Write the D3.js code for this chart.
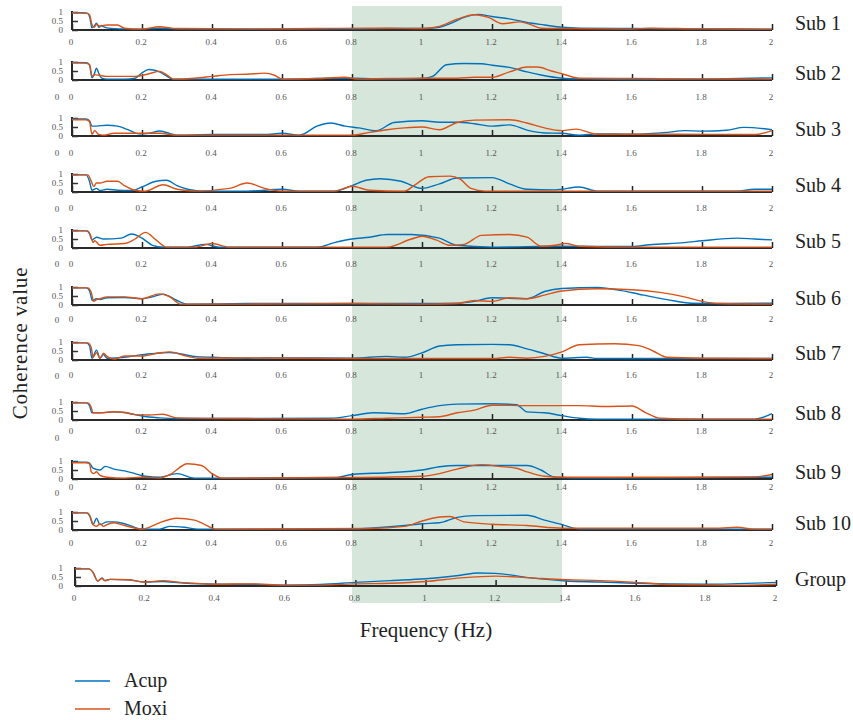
<!DOCTYPE html>
<html>
<head>
<meta charset="utf-8">
<script src="https://cdn.jsdelivr.net/npm/d3@7"></script>
<style>
  body { margin: 0; background: #fff; }
</style>
</head>
<body>
<div id="chart"></div>
<script>
//////////////////////////////////////////////////////////////////////////
// data: coherence per subject, knots read as [frequency (Hz), coherence]

var panelNames = ["Sub 1", "Sub 2", "Sub 3", "Sub 4", "Sub 5", "Sub 6",
                  "Sub 7", "Sub 8", "Sub 9", "Sub 10", "Group"];
var seriesNames = ["Acup", "Moxi"];
var xTicks = [0, 0.2, 0.4, 0.6, 0.8, 1, 1.2, 1.4, 1.6, 1.8, 2];
var yTicks = [0, 0.5, 1];
var bandRange = [0.8, 1.4];

var acupCurves = [
  [[0,0.96],[0.03,0.96],[0.045,0.92],[0.052,0.6],[0.057,0.12],[0.063,0.2],[0.07,0.38],[0.077,0.15],[0.085,0.25],[0.09,0.18],[0.1,0.12],[0.15,0.06],[0.2,0.05],[0.25,0.1],[0.3,0.05],[0.5,0.05],[0.7,0.05],[0.8,0.05],[0.9,0.08],[1.0,0.08],[1.05,0.15],[1.08,0.35],[1.12,0.7],[1.16,0.87],[1.2,0.75],[1.25,0.62],[1.3,0.42],[1.35,0.28],[1.4,0.15],[1.45,0.1],[1.6,0.08],[1.8,0.06],[2,0.05]],
  [[0,0.97],[0.04,0.96],[0.05,0.85],[0.057,0.12],[0.063,0.3],[0.07,0.65],[0.077,0.35],[0.085,0.1],[0.1,0.05],[0.15,0.05],[0.18,0.1],[0.2,0.4],[0.22,0.58],[0.25,0.45],[0.29,0.05],[0.4,0.05],[0.6,0.05],[0.75,0.1],[0.8,0.1],[0.9,0.05],[1.0,0.08],[1.03,0.2],[1.07,0.85],[1.12,0.92],[1.17,0.9],[1.2,0.82],[1.25,0.7],[1.3,0.45],[1.34,0.28],[1.4,0.1],[1.45,0.06],[1.6,0.03],[1.8,0.05],[2,0.12]],
  [[0,0.95],[0.04,0.95],[0.05,0.85],[0.057,0.55],[0.07,0.55],[0.1,0.6],[0.13,0.55],[0.16,0.35],[0.19,0.12],[0.22,0.15],[0.25,0.28],[0.3,0.05],[0.4,0.08],[0.55,0.08],[0.6,0.15],[0.65,0.05],[0.7,0.55],[0.74,0.72],[0.78,0.55],[0.82,0.45],[0.87,0.3],[0.92,0.75],[1.0,0.85],[1.05,0.76],[1.1,0.76],[1.15,0.68],[1.2,0.55],[1.25,0.62],[1.3,0.33],[1.35,0.17],[1.4,0.15],[1.45,0.05],[1.5,0.12],[1.6,0.1],[1.7,0.2],[1.75,0.3],[1.8,0.27],[1.87,0.32],[1.92,0.48],[2,0.35]],
  [[0,0.95],[0.04,0.95],[0.05,0.6],[0.057,0.1],[0.07,0.2],[0.08,0.08],[0.1,0.15],[0.13,0.1],[0.17,0.08],[0.2,0.28],[0.24,0.6],[0.27,0.65],[0.3,0.35],[0.33,0.15],[0.37,0.05],[0.5,0.05],[0.6,0.15],[0.65,0.05],[0.75,0.05],[0.8,0.35],[0.84,0.65],[0.88,0.74],[0.94,0.6],[1.0,0.2],[1.05,0.45],[1.1,0.78],[1.2,0.8],[1.25,0.45],[1.3,0.15],[1.38,0.12],[1.45,0.28],[1.5,0.05],[1.9,0.05],[1.95,0.15],[2,0.15]],
  [[0,0.95],[0.04,0.95],[0.05,0.8],[0.057,0.45],[0.07,0.6],[0.09,0.5],[0.14,0.55],[0.17,0.78],[0.2,0.55],[0.23,0.15],[0.26,0.05],[0.33,0.05],[0.38,0.2],[0.42,0.05],[0.7,0.05],[0.75,0.3],[0.8,0.5],[0.85,0.6],[0.9,0.75],[0.97,0.75],[1.05,0.55],[1.1,0.15],[1.2,0.05],[1.4,0.1],[1.6,0.08],[1.65,0.18],[1.75,0.3],[1.8,0.4],[1.9,0.55],[1.95,0.5],[2,0.45]],
  [[0,0.95],[0.04,0.95],[0.05,0.8],[0.058,0.25],[0.07,0.35],[0.08,0.3],[0.1,0.4],[0.15,0.42],[0.2,0.35],[0.23,0.45],[0.26,0.6],[0.3,0.25],[0.33,0.05],[0.5,0.08],[0.8,0.08],[1.0,0.08],[1.1,0.1],[1.15,0.2],[1.2,0.4],[1.3,0.35],[1.35,0.75],[1.4,0.92],[1.5,0.97],[1.57,0.8],[1.62,0.6],[1.7,0.3],[1.77,0.1],[1.85,0.08],[2,0.1]],
  [[0,0.95],[0.04,0.95],[0.05,0.8],[0.057,0.1],[0.07,0.55],[0.08,0.1],[0.09,0.3],[0.1,0.1],[0.15,0.15],[0.2,0.3],[0.25,0.38],[0.28,0.42],[0.35,0.2],[0.4,0.15],[0.5,0.1],[0.6,0.12],[0.8,0.1],[0.9,0.2],[0.95,0.15],[1.0,0.4],[1.05,0.78],[1.1,0.85],[1.2,0.87],[1.25,0.85],[1.3,0.62],[1.35,0.35],[1.4,0.1],[1.47,0.15],[1.5,0.08],[2,0.08]],
  [[0,0.95],[0.04,0.95],[0.05,0.8],[0.057,0.4],[0.08,0.4],[0.12,0.45],[0.15,0.42],[0.18,0.3],[0.2,0.22],[0.25,0.12],[0.3,0.08],[0.5,0.08],[0.74,0.1],[0.8,0.24],[0.86,0.4],[0.95,0.35],[1.0,0.6],[1.05,0.8],[1.1,0.88],[1.2,0.9],[1.27,0.85],[1.3,0.45],[1.35,0.4],[1.4,0.24],[1.45,0.1],[1.5,0.05],[1.95,0.05],[2,0.35]],
  [[0,0.95],[0.04,0.93],[0.05,0.88],[0.06,0.6],[0.08,0.5],[0.095,0.7],[0.12,0.55],[0.15,0.45],[0.18,0.3],[0.21,0.15],[0.25,0.1],[0.3,0.3],[0.35,0.05],[0.5,0.05],[0.75,0.08],[0.8,0.25],[0.9,0.35],[1.0,0.5],[1.05,0.68],[1.1,0.75],[1.2,0.75],[1.3,0.75],[1.34,0.5],[1.38,0.1],[1.5,0.05],[1.8,0.08],[2,0.1]],
  [[0,0.95],[0.04,0.95],[0.05,0.8],[0.06,0.3],[0.07,0.65],[0.08,0.3],[0.1,0.45],[0.12,0.45],[0.15,0.35],[0.2,0.05],[0.25,0.05],[0.28,0.2],[0.32,0.15],[0.36,0.05],[0.8,0.05],[0.85,0.1],[0.95,0.25],[1.0,0.35],[1.05,0.4],[1.1,0.7],[1.15,0.8],[1.3,0.82],[1.35,0.55],[1.4,0.3],[1.45,0.05],[2,0.05]],
  [[0,0.95],[0.04,0.95],[0.05,0.8],[0.065,0.28],[0.077,0.45],[0.085,0.3],[0.1,0.37],[0.15,0.35],[0.2,0.22],[0.25,0.25],[0.3,0.18],[0.4,0.1],[0.5,0.1],[0.6,0.05],[0.7,0.08],[0.8,0.2],[0.9,0.3],[1.0,0.4],[1.1,0.6],[1.15,0.72],[1.2,0.7],[1.3,0.45],[1.4,0.28],[1.5,0.22],[1.6,0.15],[1.8,0.1],[2,0.2]]
];

var moxiCurves = [
  [[0,0.95],[0.04,0.94],[0.05,0.85],[0.057,0.3],[0.063,0.15],[0.07,0.3],[0.08,0.22],[0.1,0.28],[0.13,0.28],[0.15,0.1],[0.2,0.05],[0.25,0.18],[0.3,0.08],[0.5,0.06],[0.7,0.08],[0.85,0.1],[0.9,0.1],[1.0,0.08],[1.05,0.2],[1.1,0.6],[1.15,0.85],[1.19,0.7],[1.23,0.35],[1.28,0.45],[1.31,0.3],[1.34,0.1],[1.4,0.08],[1.6,0.05],[1.65,0.1],[1.8,0.06],[2,0.05]],
  [[0,0.95],[0.04,0.94],[0.05,0.85],[0.058,0.2],[0.065,0.3],[0.08,0.25],[0.1,0.2],[0.18,0.2],[0.22,0.35],[0.25,0.48],[0.27,0.3],[0.29,0.05],[0.35,0.1],[0.4,0.2],[0.45,0.3],[0.5,0.32],[0.55,0.38],[0.58,0.25],[0.6,0.05],[0.7,0.08],[0.78,0.15],[0.82,0.05],[0.9,0.08],[1.0,0.1],[1.1,0.1],[1.15,0.15],[1.2,0.15],[1.25,0.45],[1.3,0.72],[1.33,0.72],[1.37,0.5],[1.4,0.35],[1.45,0.1],[1.6,0.08],[1.8,0.06],[2,0.05]],
  [[0,0.9],[0.04,0.9],[0.05,0.8],[0.057,0.1],[0.065,0.3],[0.075,0.1],[0.09,0.05],[0.12,0.15],[0.2,0.15],[0.25,0.15],[0.3,0.05],[0.5,0.05],[0.8,0.05],[0.85,0.2],[0.9,0.35],[0.95,0.45],[1.0,0.5],[1.05,0.35],[1.1,0.75],[1.15,0.88],[1.25,0.9],[1.3,0.72],[1.35,0.45],[1.4,0.3],[1.44,0.38],[1.5,0.1],[1.7,0.1],[1.95,0.08],[2,0.3]],
  [[0,0.95],[0.045,0.95],[0.055,0.6],[0.062,0.3],[0.07,0.5],[0.08,0.5],[0.1,0.6],[0.13,0.6],[0.15,0.35],[0.18,0.1],[0.21,0.05],[0.26,0.4],[0.3,0.15],[0.35,0.05],[0.45,0.2],[0.5,0.5],[0.55,0.2],[0.6,0.05],[0.75,0.05],[0.8,0.32],[0.85,0.1],[0.95,0.05],[0.98,0.4],[1.02,0.85],[1.08,0.88],[1.11,0.7],[1.14,0.2],[1.18,0.05],[1.5,0.05],[2,0.05]],
  [[0,0.95],[0.045,0.95],[0.055,0.6],[0.06,0.3],[0.065,0.4],[0.08,0.15],[0.1,0.2],[0.15,0.25],[0.18,0.5],[0.21,0.87],[0.24,0.45],[0.27,0.05],[0.35,0.05],[0.4,0.25],[0.45,0.05],[0.9,0.05],[0.97,0.5],[1.0,0.65],[1.04,0.45],[1.08,0.15],[1.12,0.2],[1.17,0.7],[1.25,0.75],[1.3,0.6],[1.34,0.1],[1.38,0.15],[1.41,0.25],[1.45,0.1],[1.6,0.05],[2,0.05]],
  [[0,0.95],[0.045,0.95],[0.055,0.7],[0.062,0.2],[0.07,0.3],[0.08,0.35],[0.1,0.45],[0.15,0.45],[0.2,0.35],[0.25,0.62],[0.28,0.45],[0.31,0.05],[0.5,0.05],[0.8,0.08],[1.0,0.05],[1.1,0.08],[1.15,0.25],[1.2,0.2],[1.25,0.4],[1.3,0.35],[1.35,0.55],[1.4,0.78],[1.5,0.9],[1.6,0.85],[1.68,0.7],[1.75,0.45],[1.8,0.2],[1.85,0.08],[2,0.05]],
  [[0,0.95],[0.045,0.95],[0.055,0.7],[0.06,0.15],[0.07,0.4],[0.08,0.1],[0.09,0.38],[0.1,0.2],[0.12,0.05],[0.15,0.22],[0.2,0.22],[0.25,0.4],[0.28,0.45],[0.32,0.25],[0.36,0.1],[0.5,0.12],[0.8,0.08],[1.2,0.08],[1.25,0.15],[1.3,0.1],[1.35,0.2],[1.4,0.45],[1.45,0.85],[1.55,0.9],[1.62,0.8],[1.66,0.5],[1.7,0.15],[1.8,0.1],[2,0.08]],
  [[0,0.95],[0.045,0.95],[0.055,0.7],[0.06,0.4],[0.08,0.4],[0.12,0.46],[0.15,0.42],[0.18,0.3],[0.22,0.28],[0.26,0.32],[0.3,0.12],[0.5,0.08],[0.8,0.05],[0.9,0.1],[1.0,0.15],[1.05,0.18],[1.1,0.4],[1.15,0.55],[1.2,0.82],[1.3,0.8],[1.45,0.8],[1.52,0.75],[1.6,0.78],[1.64,0.4],[1.68,0.1],[1.8,0.05],[2,0.05]],
  [[0,0.9],[0.04,0.9],[0.05,0.85],[0.055,0.4],[0.062,0.3],[0.07,0.4],[0.08,0.2],[0.1,0.1],[0.15,0.05],[0.2,0.1],[0.25,0.05],[0.28,0.25],[0.33,0.85],[0.37,0.75],[0.4,0.3],[0.43,0.05],[0.8,0.08],[1.0,0.15],[1.05,0.3],[1.1,0.55],[1.17,0.8],[1.22,0.7],[1.27,0.6],[1.3,0.4],[1.35,0.15],[1.4,0.1],[1.8,0.1],[1.95,0.12],[2,0.25]],
  [[0,0.95],[0.045,0.95],[0.055,0.6],[0.06,0.3],[0.07,0.2],[0.08,0.35],[0.09,0.2],[0.1,0.3],[0.12,0.4],[0.15,0.25],[0.2,0.05],[0.22,0.15],[0.25,0.4],[0.3,0.65],[0.35,0.55],[0.38,0.3],[0.41,0.05],[0.85,0.08],[0.95,0.2],[1.0,0.5],[1.05,0.72],[1.08,0.75],[1.12,0.45],[1.2,0.32],[1.3,0.25],[1.4,0.1],[1.85,0.1],[1.9,0.15],[1.95,0.05],[2,0.05]],
  [[0,0.95],[0.04,0.95],[0.05,0.8],[0.065,0.28],[0.077,0.42],[0.085,0.3],[0.1,0.37],[0.15,0.35],[0.2,0.22],[0.25,0.3],[0.3,0.2],[0.4,0.1],[0.5,0.12],[0.6,0.05],[0.7,0.05],[0.8,0.12],[0.9,0.15],[1.0,0.25],[1.1,0.45],[1.2,0.55],[1.3,0.45],[1.4,0.35],[1.5,0.3],[1.6,0.2],[1.7,0.08],[1.9,0.05],[2,0.1]]
];

//////////////////////////////////////////////////////////////////////////
// layout constants

var Width = 853;
var Height = 720;
var PanelHeight = 18;                  // px for coherence 0..1
var baselines = [30, 80, 136, 192, 248, 305, 360, 420, 479, 530, 586];
var labelRows = [42, 97, 153, 208, 264, 319, 375, 431, 487, 543, 598];
var strayZeroRows = [null, 97, 153, 209, 264, 320, 376, 438, 493, null, null];
var colors = ["#0072BD", "#D95319"];
var shadeColor = "#d6e6da";
var FontFamily = "'Liberation Serif', 'Times New Roman', 'DejaVu Serif', serif";

function xRangeFor (i) {
    // the group panel sits a few pixels to the right
    return i === panelNames.length - 1 ? [75, 776] : [72, 772];
}

//////////////////////////////////////////////////////////////////////////

function initialize () {

    var svg = d3.select("#chart")
        .append("svg")
        .attr("width", Width)
        .attr("height", Height)
        .attr("font-family", FontFamily);

    // shaded band behind all panels
    var bandScale = d3.scaleLinear().domain([0, 2]).range(xRangeFor(0));
    svg.append("rect")
        .attr("x", bandScale(bandRange[0]))
        .attr("y", 6)
        .attr("width", bandScale(bandRange[1]) - bandScale(bandRange[0]))
        .attr("height", 597)
        .attr("fill", shadeColor);

    panelNames.forEach(function (name, i) {
        makePanel(svg, i);
    });

    makeLabels(svg);
    makeLegend(svg);

} // end initialize

function makePanel (svg, i) {

    var base = baselines[i];
    var xScale = d3.scaleLinear().domain([0, 2]).range(xRangeFor(i));
    var yScale = d3.scaleLinear().domain([0, 1]).range([base, base - PanelHeight]);
    var g = svg.append("g").attr("class", "panel");

    // x axis: ticks point up into the plot
    var xAxis = d3.axisTop(xScale).tickValues(xTicks).tickSize(6).tickFormat("");
    var xg = g.append("g")
        .attr("transform", "translate(0," + base + ")")
        .call(xAxis);
    xg.select(".domain").remove();
    xg.selectAll(".tick line").attr("stroke", "#222").attr("stroke-width", 1.5);
    g.append("line")
        .attr("x1", xScale(0)).attr("x2", xScale(2))
        .attr("y1", base).attr("y2", base)
        .attr("stroke", "#2a2a2a").attr("stroke-width", 2.2);

    // x tick labels sit on their own row
    g.selectAll("text.xlab")
        .data(xTicks)
        .enter()
        .append("text")
        .attr("class", "xlab")
        .attr("x", function (d) { return xScale(d) - 1; })
        .attr("y", labelRows[i] + 3)
        .attr("text-anchor", "middle")
        .attr("font-size", "9px")
        .attr("fill", "#555")
        .text(function (d) { return d; });

    if (strayZeroRows[i] !== null) {
        g.append("text")
            .attr("x", 57)
            .attr("y", strayZeroRows[i] + 3)
            .attr("text-anchor", "middle")
            .attr("font-size", "9px")
            .attr("fill", "#555")
            .text("0");
    }

    // y axis: ticks point right
    var yAxis = d3.axisRight(yScale).tickValues(yTicks).tickSize(6).tickFormat("");
    var yg = g.append("g")
        .attr("transform", "translate(" + xScale(0) + ",0)")
        .call(yAxis);
    yg.select(".domain").remove();
    yg.selectAll(".tick line").attr("stroke", "#333").attr("stroke-width", 1.5);
    g.append("line")
        .attr("x1", xScale(0)).attr("x2", xScale(0))
        .attr("y1", base).attr("y2", base - PanelHeight - 1)
        .attr("stroke", "#2a2a2a").attr("stroke-width", 2);

    g.selectAll("text.ylab")
        .data(yTicks)
        .enter()
        .append("text")
        .attr("class", "ylab")
        .attr("x", 63)
        .attr("y", function (d) { return yScale(d) + 3; })
        .attr("text-anchor", "end")
        .attr("font-size", "9px")
        .attr("fill", "#555")
        .text(function (d) { return d; });

    // the two coherence curves
    var line = d3.line()
        .x(function (d) { return xScale(d[0]); })
        .y(function (d) { return yScale(d[1]); })
        .curve(d3.curveMonotoneX);

    [acupCurves[i], moxiCurves[i]].forEach(function (curve, k) {
        g.append("path")
            .datum(curve)
            .attr("d", line)
            .attr("fill", "none")
            .attr("stroke", colors[k])
            .attr("stroke-width", 1.4)
            .attr("stroke-linejoin", "round");
    });

    // subject name on the right
    g.append("text")
        .attr("x", 795)
        .attr("y", base)
        .attr("font-size", "20px")
        .attr("fill", "#222")
        .text(panelNames[i]);

} // end makePanel

function makeLabels (svg) {

    svg.append("text")
        .attr("transform", "translate(27,343) rotate(-90)")
        .attr("text-anchor", "middle")
        .attr("font-size", "21px")
        .attr("letter-spacing", "0.8px")
        .attr("fill", "#222")
        .text("Coherence value");

    svg.append("text")
        .attr("x", 426)
        .attr("y", 637)
        .attr("text-anchor", "middle")
        .attr("font-size", "21px")
        .attr("fill", "#222")
        .text("Frequency (Hz)");

} // end makeLabels

function makeLegend (svg) {

    var legendY = d3.scalePoint().domain(seriesNames).range([681, 709]);

    seriesNames.forEach(function (name, k) {
        svg.append("line")
            .attr("x1", 75).attr("x2", 110)
            .attr("y1", legendY(name)).attr("y2", legendY(name))
            .attr("stroke", colors[k])
            .attr("stroke-width", 1.4);
        svg.append("text")
            .attr("x", 124)
            .attr("y", legendY(name) + 6)
            .attr("font-size", "20px")
            .attr("fill", "#222")
            .text(name);
    });

} // end makeLegend

initialize();
</script>
</body>
</html>
